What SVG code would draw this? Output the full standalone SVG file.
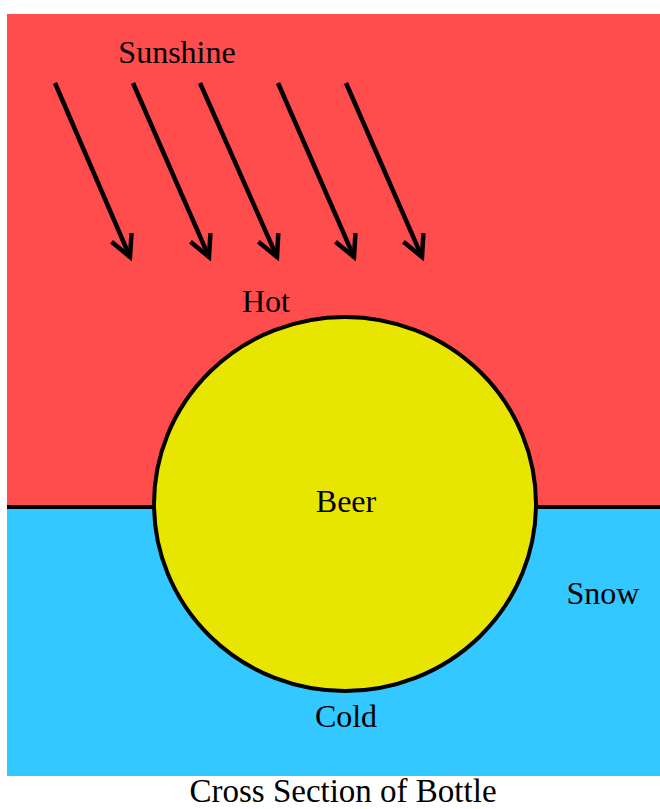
<svg xmlns="http://www.w3.org/2000/svg" width="660" height="809" viewBox="0 0 660 809">
<style>
text{font-family:"Liberation Serif","Times New Roman",serif;font-size:32px;fill:#000;text-anchor:middle}
.ray{stroke:#000;stroke-width:4.5;fill:none;marker-end:url(#ah)}
</style>
<defs>
<marker id="ah" markerUnits="userSpaceOnUse" viewBox="-26 -14 30 28" markerWidth="30" markerHeight="28" refX="0" refY="0" orient="auto">
<path d="M-21.4,-10.9 L0,0 L-21.4,10.9" fill="none" stroke="#000" stroke-width="4.5" stroke-linejoin="miter"/>
</marker>
</defs>
<rect width="660" height="809" fill="#fff"/>
<g id="hot-region"><rect x="7" y="14" width="653" height="493" fill="#FF4C4C"/></g>
<g id="snow-region"><rect x="7" y="507" width="653" height="269" fill="#33C8FF"/></g>
<g id="connectors">
<line x1="7" y1="507" x2="160" y2="507" stroke="#000" stroke-width="4"/>
<line x1="530" y1="507" x2="660" y2="507" stroke="#000" stroke-width="4"/>
<line class="ray" x1="55" y1="83" x2="130" y2="257"/>
<line class="ray" x1="133" y1="83" x2="209" y2="257"/>
<line class="ray" x1="200" y1="83" x2="277" y2="257"/>
<line class="ray" x1="278" y1="83" x2="354" y2="257"/>
<line class="ray" x1="346" y1="83" x2="422" y2="257"/>
</g>
<g id="beer"><ellipse cx="345" cy="504" rx="191" ry="187" fill="#E8E600" stroke="#000" stroke-width="4"/>
<text x="346" y="512">Beer</text></g>
<text id="sunshine" x="177" y="63">Sunshine</text>
<text id="hot" x="266" y="312">Hot</text>
<text id="cold" x="346" y="727">Cold</text>
<text id="snow" x="603" y="604">Snow</text>
<text id="caption" x="343" y="802" style="font-size:33px">Cross Section of Bottle</text>
</svg>
